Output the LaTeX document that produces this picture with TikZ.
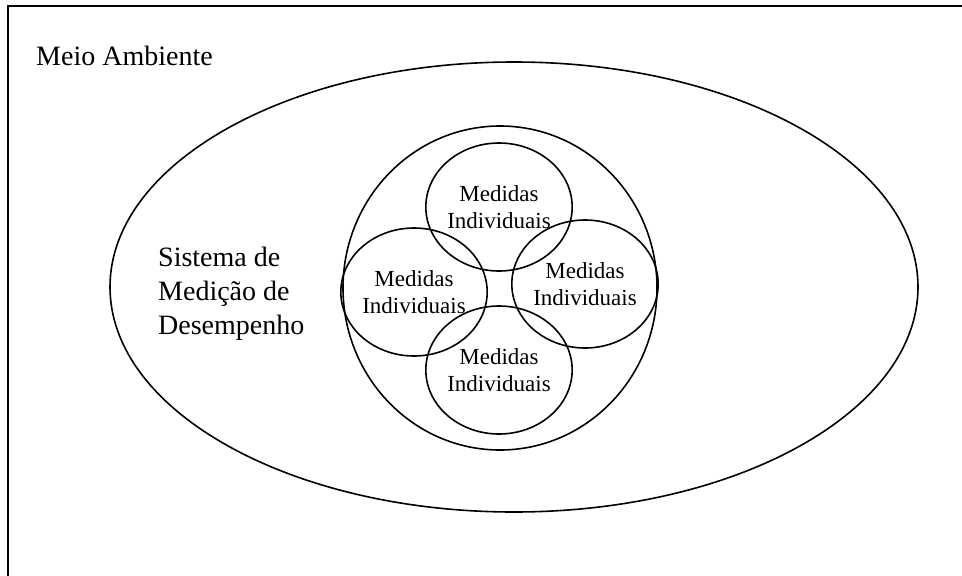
\documentclass[tikz,border=0pt]{standalone}
\usepackage{fontspec}
\setmainfont{Liberation Serif}
\usetikzlibrary{shapes, positioning, calc}

\begin{document}
\begin{tikzpicture}
	[
	x = 1pt, y = -1pt,
	shell/.style = {ellipse, draw, line width = 1.6pt, inner sep = 0pt},
	medida/.style = {shell, minimum width = 144pt, minimum height = 128pt,
		align = center, font = \fontsize{23}{27}\selectfont},
	rotulo/.style = {inner sep = 0pt, font = \fontsize{28}{34}\selectfont}
	]
	
	\clip (0, 0) rectangle (962, 576);
	\draw[line width = 1.6pt] (8, 6) rectangle (990, 600);
	
	\node[rotulo, anchor = base west] (meio) at (36, 65) {Meio Ambiente};
	\node[shell, minimum width = 808pt, minimum height = 450pt] (amb) at (514, 287) {};
	\node[shell, minimum width = 314pt, minimum height = 324pt] (sis) at (500, 288) {};
	\node[rotulo, align = left, anchor = west] (sistema) at (158, 294) {Sistema de\\ Medição de\\ Desempenho};
	
	\node[medida] (mtop) at (499, 207) {Medidas\\ Individuais};
	\node[medida] (mleft) at (414, 292) {Medidas\\ Individuais};
	\node[medida] (mright) at (585, 284) {Medidas\\ Individuais};
	\node[medida] (mbot) at (499, 370) {Medidas\\ Individuais};
\end{tikzpicture}
\end{document}
